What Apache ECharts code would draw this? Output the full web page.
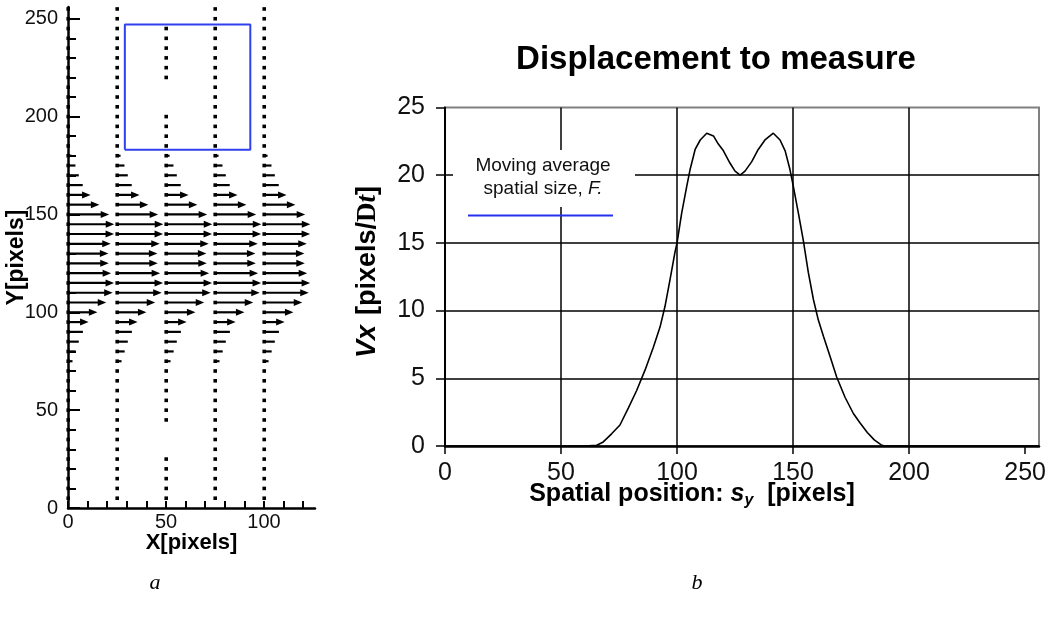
<!DOCTYPE html>
<html>
<head>
<meta charset="utf-8">
<script src="https://cdn.jsdelivr.net/npm/echarts@6/dist/echarts.min.js"></script>
<style>
  html, body { margin: 0; padding: 0; background: #fff; }
  #chart { width: 1045px; height: 618px; }
</style>
</head>
<body>
<div id="chart"></div>
<script>
// --- panel b: Vx profile across s_y ---
const sPos = [0, 20, 40, 60, 65.4, 68.2, 71.8, 75.4, 79, 82.6, 86.2, 89.8, 92.7, 94.8, 97, 99.1, 100,
  102, 104.2, 105.6, 107.8, 110, 112.8, 115.7, 117.8, 120, 122.8, 125, 127.2, 129.3, 132.2, 135,
  137.9, 141.5, 144.4, 146.6, 148.7, 150.1, 152.3, 154.4, 156.6, 158.8, 160.9, 163.1, 166, 168.8,
  172.4, 176, 178.9, 182, 185, 188, 189.5, 210, 230, 256];
const vxVal = [0, 0, 0, 0, 0.05, 0.3, 0.9, 1.55, 2.8, 4.1, 5.6, 7.3, 8.8, 10.3, 12.3, 14.3, 15,
  17.2, 19.2, 20.4, 21.9, 22.6, 23.1, 22.9, 22.3, 21.8, 20.9, 20.3, 20, 20.3, 21, 21.9,
  22.6, 23.1, 22.6, 21.8, 20.4, 19.2, 17.2, 15.2, 12.8, 10.8, 9.3, 8.1, 6.6, 5.1,
  3.6, 2.4, 1.7, 1, 0.45, 0.08, 0, 0, 0, 0];
const bTicks = [0, 50, 100, 150, 200, 250];

// --- panel a: vector field ---
const vecCols = [0, 25, 50, 75, 100];
const vecRows = [5, 10, 15, 20, 25, 30, 35, 40, 45, 50, 55, 60, 65, 70, 75, 80, 85, 90, 95, 100,
  105, 110, 115, 120, 125, 130, 135, 140, 145, 150, 155, 160, 165, 170, 175, 180, 185, 190,
  195, 200, 205, 210, 215, 220, 225, 230, 235, 240, 245, 250, 255];
const vecLen = [0, 0, 0, 0, 0, 0, 0, 0, 0, 0, 0, 0, 0, 0.6, 2.3, 3.9, 5.5, 7.6, 10.5, 15,
  19.5, 22.8, 23.5, 22, 20.8, 20.6, 21.8, 23.5, 23.6, 21, 16, 11.5, 7.5, 5.5, 3.8, 1.8, 0.4, 0,
  0, 0, 0, 0, 0, 0, 0, 0, 0, 0, 0, 0, 0];
// rows with no vector in the x = 50 column
const col50Gaps = [30, 35, 40, 205, 210, 215, 250, 255];
const boxCorners = [[29, 183], [93, 183], [93, 247], [29, 247], [29, 183]];
const aXLabels = [0, 50, 100];
const aXTicks = [0, 10, 20, 30, 40, 50, 60, 70, 80, 90, 100, 110, 120];
const aYLabels = [0, 50, 100, 150, 200, 250];
const aYTicks = [0, 10, 20, 30, 40, 50, 60, 70, 80, 90, 100, 110, 120, 130, 140, 150, 160, 170,
  180, 190, 200, 210, 220, 230, 240, 250];

const FONT = 'Arial, "Liberation Sans", sans-serif';
const SERIF = '"Liberation Serif", "Times New Roman", serif';

const vectors = [];
vecCols.forEach(function (c) {
  vecRows.forEach(function (r, i) {
    if (c === 50 && col50Gaps.indexOf(r) >= 0) return;
    vectors.push([c, r, vecLen[i]]);
  });
});
const curve = sPos.map(function (s, i) { return [s, vxVal[i]]; });

const chart = echarts.init(document.getElementById('chart'));
chart.setOption({
  animation: false,
  backgroundColor: '#fff',
  grid: [
    { left: 68, top: 7, width: 247, height: 501, outerBoundsMode: 'none', containLabel: false },
    { left: 445, top: 107.5, width: 594, height: 338.5, show: true, borderColor: '#808080', borderWidth: 2, outerBoundsMode: 'none', containLabel: false },
    { left: 68, top: 7, width: 247, height: 501, outerBoundsMode: 'none', containLabel: false }
  ],
  xAxis: [
    {
      gridIndex: 0, type: 'value', min: 0, max: 126, interval: 10,
      name: 'X[pixels]', nameLocation: 'middle', nameGap: 24, nameMoveOverlap: false,
      nameTextStyle: { fontFamily: FONT, fontSize: 22, fontWeight: 'bold', color: '#000' },
      axisLine: { lineStyle: { color: '#000', width: 2.5 } },
      axisTick: { inside: true, length: 7, customValues: aXTicks, lineStyle: { color: '#000', width: 2 } },
      axisLabel: { customValues: aXLabels, margin: 4, fontFamily: FONT, fontSize: 20, color: '#111' },
      splitLine: { show: false }
    },
    {
      gridIndex: 1, type: 'value', min: 0, max: 256, interval: 50,
      axisLine: { lineStyle: { color: '#000', width: 2.5 } },
      axisTick: { length: 8, customValues: bTicks, lineStyle: { color: '#000', width: 1.5 } },
      axisLabel: { customValues: bTicks, margin: 15, fontFamily: FONT, fontSize: 25, color: '#111' },
      splitLine: { show: true, showMinLine: false, showMaxLine: false, lineStyle: { color: '#000', width: 1.5 } }
    },
    { gridIndex: 2, type: 'value', min: 0, max: 126, show: false }
  ],
  yAxis: [
    {
      gridIndex: 0, type: 'value', min: 0, max: 256, interval: 10,
      name: 'Y[pixels]', nameLocation: 'middle', nameGap: 40, nameMoveOverlap: false,
      nameTextStyle: { fontFamily: FONT, fontSize: 23, fontWeight: 'bold', color: '#000' },
      axisLine: { lineStyle: { color: '#000', width: 2.5 } },
      axisTick: { inside: true, length: 8, customValues: aYTicks, lineStyle: { color: '#000', width: 2 } },
      axisLabel: { customValues: aYLabels, margin: 10, fontFamily: FONT, fontSize: 20, color: '#111' },
      splitLine: { show: false }
    },
    {
      gridIndex: 1, type: 'value', min: 0, max: 25, interval: 5,
      axisLine: { lineStyle: { color: '#000', width: 2 } },
      axisTick: { length: 9, lineStyle: { color: '#000', width: 1.5 } },
      axisLabel: { margin: 20, fontFamily: FONT, fontSize: 25, color: '#111' },
      splitLine: { show: true, showMinLine: false, showMaxLine: false, lineStyle: { color: '#000', width: 1.5 } }
    },
    {
      gridIndex: 2, type: 'value', min: 0, max: 256,
      axisLine: { show: false },
      axisTick: { inside: true, length: 12, customValues: aYLabels, lineStyle: { color: '#000', width: 2 } },
      axisLabel: { show: false },
      splitLine: { show: false }
    }
  ],
  series: [
    {
      type: 'custom',
      xAxisIndex: 0, yAxisIndex: 0,
      data: vectors,
      clip: false,
      renderItem: function (params, api) {
        const p0 = api.coord([api.value(0), api.value(1)]);
        const p1 = api.coord([api.value(0) + api.value(2), api.value(1)]);
        const L = p1[0] - p0[0];
        const kids = [{
          type: 'rect',
          shape: { x: p0[0] - 1.6, y: p0[1] - 1.8, width: 3.6, height: 3.6 },
          style: { fill: '#000' }
        }];
        if (L > 1) {
          const head = L > 16 ? 8.5 : 0;
          kids.push({
            type: 'line',
            shape: { x1: p0[0], y1: p0[1], x2: p1[0] - head * 0.5, y2: p0[1] },
            style: { stroke: '#000', lineWidth: 2.2 }
          });
          if (head) {
            kids.push({
              type: 'polygon',
              shape: { points: [[p1[0], p0[1]], [p1[0] - head, p0[1] - 3.5], [p1[0] - head, p0[1] + 3.5]] },
              style: { fill: '#000' }
            });
          }
        }
        return { type: 'group', children: kids };
      }
    },
    {
      type: 'line',
      xAxisIndex: 0, yAxisIndex: 0,
      data: boxCorners,
      showSymbol: false,
      lineStyle: { color: '#3040f0', width: 2 },
      z: 5
    },
    {
      type: 'line',
      xAxisIndex: 1, yAxisIndex: 1,
      data: curve,
      showSymbol: false,
      lineStyle: { color: '#000', width: 1.6 },
      z: 5
    }
  ],
  graphic: [
    {
      type: 'text', z: 100, x: 716, y: 60,
      style: {
        text: 'Displacement to measure',
        fontFamily: FONT, fontSize: 33, fontWeight: 'bold', fill: '#000',
        align: 'center', verticalAlign: 'middle'
      }
    },
    {
      type: 'rect', z: 100,
      shape: { x: 453, y: 150, width: 182, height: 57 },
      style: { fill: '#fff' }
    },
    {
      type: 'text', z: 101, x: 543, y: 177,
      style: {
        text: 'Moving average\nspatial size, {i|F.}',
        fontFamily: FONT, fontSize: 19, fill: '#111', lineHeight: 23,
        align: 'center', verticalAlign: 'middle',
        rich: { i: { fontFamily: FONT, fontSize: 19, fontStyle: 'italic', fill: '#111', lineHeight: 23 } }
      }
    },
    {
      type: 'line', z: 101,
      shape: { x1: 468, y1: 215.5, x2: 613, y2: 215.5 },
      style: { stroke: '#2630f0', lineWidth: 2 }
    },
    {
      type: 'text', z: 101, x: 368, y: 272, rotation: Math.PI / 2,
      style: {
        text: '{v|Vx}   {n|[pixels/}{d|D}{t|t}{n|]}',
        align: 'center', verticalAlign: 'middle',
        rich: {
          v: { fontFamily: FONT, fontSize: 27, fontWeight: 'bold', fontStyle: 'italic', fill: '#000' },
          n: { fontFamily: FONT, fontSize: 27, fontWeight: 'bold', fill: '#000' },
          d: { fontFamily: SERIF, fontSize: 27, fontWeight: 'bold', fill: '#000' },
          t: { fontFamily: SERIF, fontSize: 27, fontWeight: 'bold', fontStyle: 'italic', fill: '#000' }
        }
      }
    },
    {
      type: 'text', z: 101, x: 692, y: 494,
      style: {
        text: '{n|Spatial position: }{s|s}{y|y}{n|  [pixels]}',
        align: 'center', verticalAlign: 'middle',
        rich: {
          n: { fontFamily: FONT, fontSize: 25, fontWeight: 'bold', fill: '#000', lineHeight: 30, verticalAlign: 'middle' },
          s: { fontFamily: FONT, fontSize: 25, fontWeight: 'bold', fontStyle: 'italic', fill: '#000', lineHeight: 30, verticalAlign: 'middle' },
          y: { fontFamily: FONT, fontSize: 16, fontWeight: 'bold', fontStyle: 'italic', fill: '#000', lineHeight: 16, verticalAlign: 'bottom' }
        }
      }
    },
    {
      type: 'text', z: 101, x: 155, y: 583,
      style: { text: 'a', fontFamily: SERIF, fontSize: 22, fontStyle: 'italic', fill: '#000', align: 'center', verticalAlign: 'middle' }
    },
    {
      type: 'text', z: 101, x: 697, y: 583,
      style: { text: 'b', fontFamily: SERIF, fontSize: 22, fontStyle: 'italic', fill: '#000', align: 'center', verticalAlign: 'middle' }
    }
  ]
});
window.addEventListener('resize', function () { chart.resize(); });
</script>
</body>
</html>
